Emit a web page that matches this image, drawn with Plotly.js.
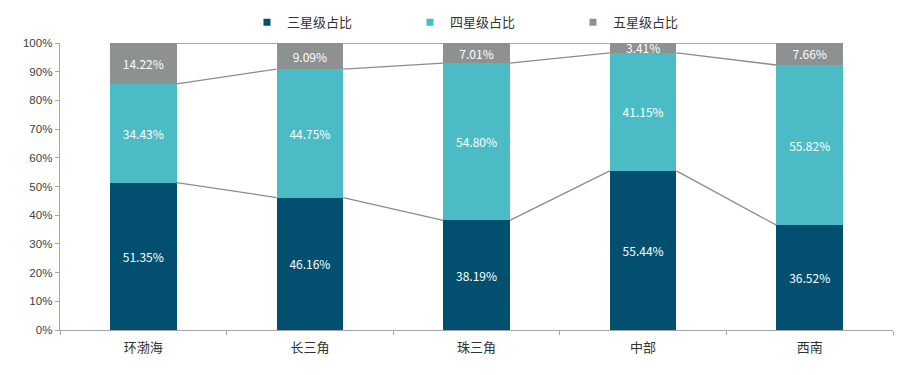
<!DOCTYPE html>
<html>
<head>
<meta charset="utf-8">
<script src="https://cdn.plot.ly/plotly-3.0.1.min.js"></script>
<style>html,body{margin:0;padding:0;background:#fff;}#chart{width:910px;height:375px;}</style>
</head>
<body>
<div id="chart"></div>
<script>
var categories = ['环渤海', '长三角', '珠三角', '中部', '西南'];
var seriesNames = ['三星级占比', '四星级占比', '五星级占比'];
var threeStar = [51.35, 46.16, 38.19, 55.44, 36.52];
var fourStar = [34.43, 44.75, 54.80, 41.15, 55.82];
var fiveStar = [14.22, 9.09, 7.01, 3.41, 7.66];
var colors = ['#024f6f', '#4bbbc5', '#8e9192'];
var yTickVals = [0, 0.1, 0.2, 0.3, 0.4, 0.5, 0.6, 0.7, 0.8, 0.9, 1.0];
var yTickText = ['0%', '10%', '20%', '30%', '40%', '50%', '60%', '70%', '80%', '90%', '100%'];

var xs = categories.map(function(c, i){ return i; });
var barW = 0.4;
var series = [threeStar, fourStar, fiveStar];

var traces = series.map(function(vals, k){
  return {
    type: 'bar',
    name: seriesNames[k],
    x: xs,
    y: vals.map(function(v){ return v / 100; }),
    width: barW,
    marker: {color: colors[k], line: {width: 0}},
    text: vals.map(function(v){ return v.toFixed(2) + '%'; }),
    textposition: 'inside',
    insidetextanchor: 'middle',
    textangle: 0,
    textfont: {color: '#ffffff', size: 12, family: 'Noto Sans CJK SC, sans-serif'},
    showlegend: false,
    hoverinfo: 'skip'
  };
});

// connector lines between cumulative levels
var cum1 = threeStar.map(function(v){ return v / 100; });
var cum2 = threeStar.map(function(v, i){ return (v + fourStar[i]) / 100; });
var cum3 = threeStar.map(function(v, i){ return (v + fourStar[i] + fiveStar[i]) / 100; });
[cum1, cum2, cum3].forEach(function(lv){
  var lx = [], ly = [];
  for (var i = 0; i < xs.length - 1; i++) {
    lx.push(xs[i] + barW / 2, xs[i + 1] - barW / 2, null);
    ly.push(lv[i], lv[i + 1], null);
  }
  traces.push({
    type: 'scatter', mode: 'lines', x: lx, y: ly,
    line: {color: '#8c8c8c', width: 1.3},
    cliponaxis: false,
    showlegend: false, hoverinfo: 'skip'
  });
});

// legend entries with small square markers
seriesNames.forEach(function(n, k){
  traces.push({
    type: 'scatter', mode: 'markers', name: n, x: [null], y: [null],
    marker: {symbol: 'square', size: 7, color: colors[k]},
    showlegend: true, hoverinfo: 'skip'
  });
});

var layout = {
  width: 910, height: 375,
  margin: {l: 60, r: 17, t: 43, b: 45, autoexpand: false},
  paper_bgcolor: '#ffffff', plot_bgcolor: '#ffffff',
  barmode: 'stack',
  showlegend: true,
  uniformtext: {minsize: 12, mode: 'show'},
  legend: {
    orientation: 'h', x: 0.518, xanchor: 'center', y: 1.072, yanchor: 'middle',
    font: {family: 'Noto Sans CJK SC, sans-serif', size: 13, color: '#333333'},
    entrywidth: 118, itemwidth: 30, traceorder: 'normal'
  },
  xaxis: {
    range: [-0.5, 4.5],
    tickmode: 'array', tickvals: xs, ticktext: categories,
    ticks: '', showgrid: false, zeroline: false,
    showline: true, linecolor: '#a6a6a6', linewidth: 1.3,
    ticklabelstandoff: 5,
    tickfont: {family: 'Noto Sans CJK SC, sans-serif', size: 13, color: '#333333'},
    minor: {tick0: -0.5, dtick: 1, ticks: 'outside', ticklen: 4, tickcolor: '#a6a6a6', tickwidth: 1, showgrid: false}
  },
  yaxis: {
    range: [0, 1],
    tickmode: 'array', tickvals: yTickVals, ticktext: yTickText,
    ticks: 'outside', ticklen: 4, tickcolor: '#a6a6a6', tickwidth: 1,
    showgrid: false, zeroline: false,
    showline: true, linecolor: '#a6a6a6', linewidth: 1.3,
    tickfont: {family: 'Liberation Sans, Arial, sans-serif', size: 11.5, color: '#404040'}
  }
};

Plotly.newPlot('chart', traces, layout, {displayModeBar: false, staticPlot: true});
</script>
</body>
</html>
